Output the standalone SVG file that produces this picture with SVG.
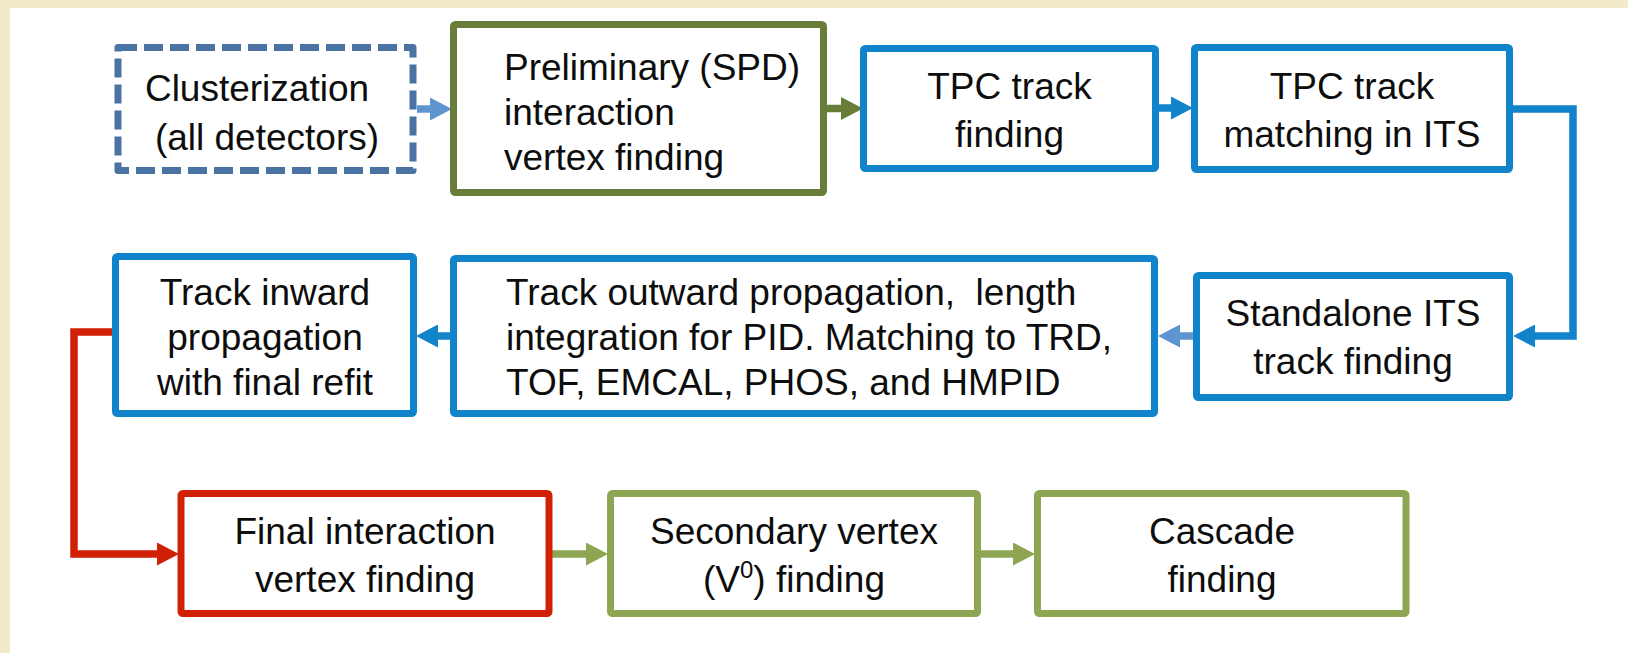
<svg xmlns="http://www.w3.org/2000/svg" width="1628" height="653" viewBox="0 0 1628 653">
<style>
.box{fill:#ffffff;stroke-width:7;stroke-linejoin:round}
.dash{stroke:#4a72a2;stroke-dasharray:19 7}
.olive{stroke:#687d38}
.blue{stroke:#1183cb}
.red{stroke:#d02107}
.lgreen{stroke:#8ea653}
.conn{fill:none;stroke-width:7.5;stroke-linejoin:miter}
text{font-family:"Liberation Sans",Arial,sans-serif;font-size:37px;fill:#0d0d0d}
.c{text-anchor:middle}
</style>
<defs>
<marker id="ahLB" markerUnits="userSpaceOnUse" markerWidth="22" markerHeight="23" viewBox="0 0 22 23" refX="0" refY="11.5" orient="auto"><path d="M0,0 L22,11.5 L0,23 z" fill="#5e95cf"/></marker>
<marker id="ahOL" markerUnits="userSpaceOnUse" markerWidth="22" markerHeight="23" viewBox="0 0 22 23" refX="0" refY="11.5" orient="auto"><path d="M0,0 L22,11.5 L0,23 z" fill="#687d38"/></marker>
<marker id="ahBL" markerUnits="userSpaceOnUse" markerWidth="22" markerHeight="23" viewBox="0 0 22 23" refX="0" refY="11.5" orient="auto"><path d="M0,0 L22,11.5 L0,23 z" fill="#1183cb"/></marker>
<marker id="ahRD" markerUnits="userSpaceOnUse" markerWidth="22" markerHeight="23" viewBox="0 0 22 23" refX="0" refY="11.5" orient="auto"><path d="M0,0 L22,11.5 L0,23 z" fill="#d02107"/></marker>
<marker id="ahLG" markerUnits="userSpaceOnUse" markerWidth="22" markerHeight="23" viewBox="0 0 22 23" refX="0" refY="11.5" orient="auto"><path d="M0,0 L22,11.5 L0,23 z" fill="#8ea653"/></marker>
</defs>
<rect x="0" y="0" width="1628" height="653" fill="#f2eacb"/>
<rect x="10" y="8" width="1618" height="645" fill="#ffffff"/>
<g id="connectors">
<path class="conn" stroke="#5e95cf" d="M417,109 H430" marker-end="url(#ahLB)"/>
<path class="conn" stroke="#687d38" d="M827,108.5 H841" marker-end="url(#ahOL)"/>
<path class="conn" stroke="#1183cb" d="M1159,108 H1171" marker-end="url(#ahBL)"/>
<path class="conn" stroke="#1183cb" d="M1513,109 H1573 V336 H1535" marker-end="url(#ahBL)"/>
<path class="conn" stroke="#5e95cf" d="M1193,336 H1180" marker-end="url(#ahLB)"/>
<path class="conn" stroke="#1183cb" d="M450,336 H438" marker-end="url(#ahBL)"/>
<path class="conn" stroke="#d02107" d="M114,332 H74 V554 H157" marker-end="url(#ahRD)"/>
<path class="conn" stroke="#8ea653" d="M552,554 H586" marker-end="url(#ahLG)"/>
<path class="conn" stroke="#8ea653" d="M981,554 H1013" marker-end="url(#ahLG)"/>
</g>
<g id="clusterization">
<rect class="box dash" x="118" y="47.5" width="295" height="123"/>
<text class="c" x="257" y="101">Clusterization</text>
<text class="c" x="267" y="150">(all detectors)</text>
</g>
<g id="preliminary">
<rect class="box olive" x="453.5" y="24.5" width="370" height="168" rx="2"/>
<text x="504" y="80">Preliminary (SPD)</text>
<text x="504" y="125">interaction</text>
<text x="504" y="170">vertex finding</text>
</g>
<g id="tpc-finding">
<rect class="box blue" x="863.5" y="48.5" width="292" height="120" rx="2"/>
<text class="c" x="1009.5" y="99">TPC track</text>
<text class="c" x="1009.5" y="147">finding</text>
</g>
<g id="tpc-matching">
<rect class="box blue" x="1194.5" y="47.5" width="315" height="122" rx="2"/>
<text class="c" x="1352" y="99">TPC track</text>
<text class="c" x="1352" y="147">matching in ITS</text>
</g>
<g id="standalone-its">
<rect class="box blue" x="1196.5" y="275.5" width="313" height="122" rx="2"/>
<text class="c" x="1353" y="326">Standalone ITS</text>
<text class="c" x="1353" y="374">track finding</text>
</g>
<g id="outward">
<rect class="box blue" x="453.5" y="258.5" width="701" height="155" rx="2"/>
<text x="506" y="305" xml:space="preserve">Track outward propagation,  length</text>
<text x="506" y="350">integration for PID. Matching to TRD,</text>
<text x="506" y="395">TOF, EMCAL, PHOS, and HMPID</text>
</g>
<g id="inward">
<rect class="box blue" x="115.5" y="256.5" width="298" height="157" rx="2"/>
<text class="c" x="265" y="305">Track inward</text>
<text class="c" x="265" y="350">propagation</text>
<text class="c" x="265" y="395">with final refit</text>
</g>
<g id="final-vertex">
<rect class="box red" x="181" y="493.5" width="368" height="120" rx="2"/>
<text class="c" x="365" y="544">Final interaction</text>
<text class="c" x="365" y="592">vertex finding</text>
</g>
<g id="secondary-vertex">
<rect class="box lgreen" x="610.5" y="493.5" width="367" height="120" rx="2"/>
<text class="c" x="794" y="544">Secondary vertex</text>
<text class="c" x="794" y="592">(V<tspan font-size="24" dy="-14">0</tspan><tspan dy="14">) finding</tspan></text>
</g>
<g id="cascade">
<rect class="box lgreen" x="1037.5" y="493.5" width="368.5" height="120" rx="2"/>
<text class="c" x="1222" y="544">Cascade</text>
<text class="c" x="1222" y="592">finding</text>
</g>
</svg>
